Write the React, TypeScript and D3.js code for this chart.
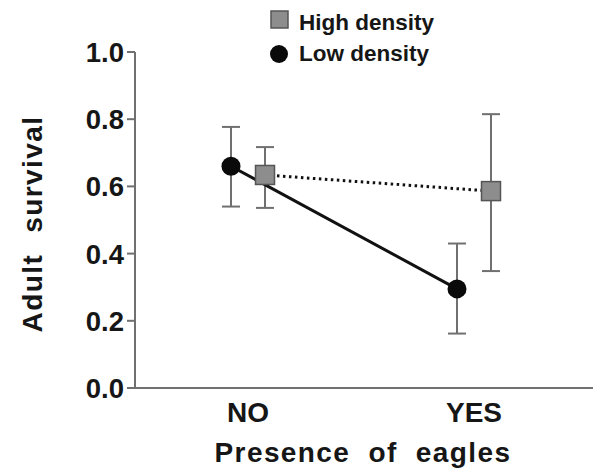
import React from 'react';
import * as d3 from 'd3';

const categories = ['NO', 'YES'];
const yTicks = [0, 0.2, 0.4, 0.6, 0.8, 1.0];

const lowMean = [0.66, 0.295];
const lowLower = [0.54, 0.162];
const lowUpper = [0.777, 0.43];

const highMean = [0.634, 0.586];
const highLower = [0.536, 0.348];
const highUpper = [0.717, 0.815];

const W = 593;
const H = 471;
const FONT = '"Liberation Sans", Arial, sans-serif';
const TEXT = '#161616';
const AXIS = '#707070';

const App: React.FC = () => {
  const axisX = 135;
  const x = d3.scalePoint<string>().domain(categories).range([248, 474]);
  const y = d3.scaleLinear().domain([0, 1]).range([388, 52]);
  const offset = 17;

  const lowPts = categories.map((c, i) => [x(c)! - offset, y(lowMean[i])] as [number, number]);
  const highPts = categories.map((c, i) => [x(c)! + offset, y(highMean[i])] as [number, number]);
  const line = d3.line();

  const capW = 9;
  const errBar = (cx: number, lo: number, hi: number, key: string) => (
    <g key={key} stroke={AXIS} strokeWidth={2}>
      <line x1={cx} x2={cx} y1={y(lo)} y2={y(hi)} />
      <line x1={cx - capW} x2={cx + capW} y1={y(lo)} y2={y(lo)} />
      <line x1={cx - capW} x2={cx + capW} y1={y(hi)} y2={y(hi)} />
    </g>
  );

  return (
    <div style={{ position: 'absolute', left: 0, top: 0 }}>
      <svg width={W} height={H} style={{ display: 'block', background: '#fff' }} fontFamily={FONT}>
        {/* axes */}
        <line x1={axisX} x2={axisX} y1={y(1)} y2={y(0)} stroke={AXIS} strokeWidth={2} />
        <line x1={axisX} x2={W} y1={y(0)} y2={y(0)} stroke={AXIS} strokeWidth={2} />
        {yTicks.map(t => (
          <g key={t}>
            <line x1={axisX - 8} x2={axisX} y1={y(t)} y2={y(t)} stroke={AXIS} strokeWidth={2} />
            <text x={axisX - 11} y={y(t)} dy="0.36em" textAnchor="end" fontSize={27.5} fontWeight="bold" fill={TEXT}>
              {t.toFixed(1)}
            </text>
          </g>
        ))}
        {categories.map(c => (
          <text key={c} x={x(c)} y={422} textAnchor="middle" fontSize={28} fontWeight="bold" fill={TEXT}>{c}</text>
        ))}
        <text x={363} y={462} textAnchor="middle" fontSize={28} fontWeight="bold" fill={TEXT}
          style={{ letterSpacing: '1.4px', wordSpacing: '9px' }}>Presence of eagles</text>
        <text transform={`translate(42,224) rotate(-90)`} textAnchor="middle" fontSize={28} fontWeight="bold" fill={TEXT}
          style={{ letterSpacing: '1.4px', wordSpacing: '12px' }}>Adult survival</text>

        {/* error bars */}
        {categories.map((c, i) => errBar(x(c)! - offset, lowLower[i], lowUpper[i], 'l' + c))}
        {categories.map((c, i) => errBar(x(c)! + offset, highLower[i], highUpper[i], 'h' + c))}

        {/* lines */}
        <path d={line(highPts) || ''} fill="none" stroke="#111" strokeWidth={3} strokeDasharray="2.5,3.5" />
        <path d={line(lowPts) || ''} fill="none" stroke="#111" strokeWidth={3} />

        {/* markers */}
        {lowPts.map((p, i) => <circle key={'lc' + i} cx={p[0]} cy={p[1]} r={9.5} fill="#0a0a0a" />)}
        {highPts.map((p, i) => (
          <rect key={'hs' + i} x={p[0] - 9.5} y={p[1] - 9.5} width={19} height={19} fill="#8d8d8d" stroke="#555" strokeWidth={1.5} />
        ))}

        {/* legend */}
        <rect x={271} y={11} width={17} height={17} fill="#8d8d8d" stroke="#555" strokeWidth={1.5} />
        <text x={299} y={30} fontSize={22.5} fontWeight="bold" fill={TEXT}>High density</text>
        <circle cx={279} cy={54} r={9} fill="#0a0a0a" />
        <text x={299} y={61} fontSize={22.5} fontWeight="bold" fill={TEXT}>Low density</text>
      </svg>
    </div>
  );
};

export default App;
